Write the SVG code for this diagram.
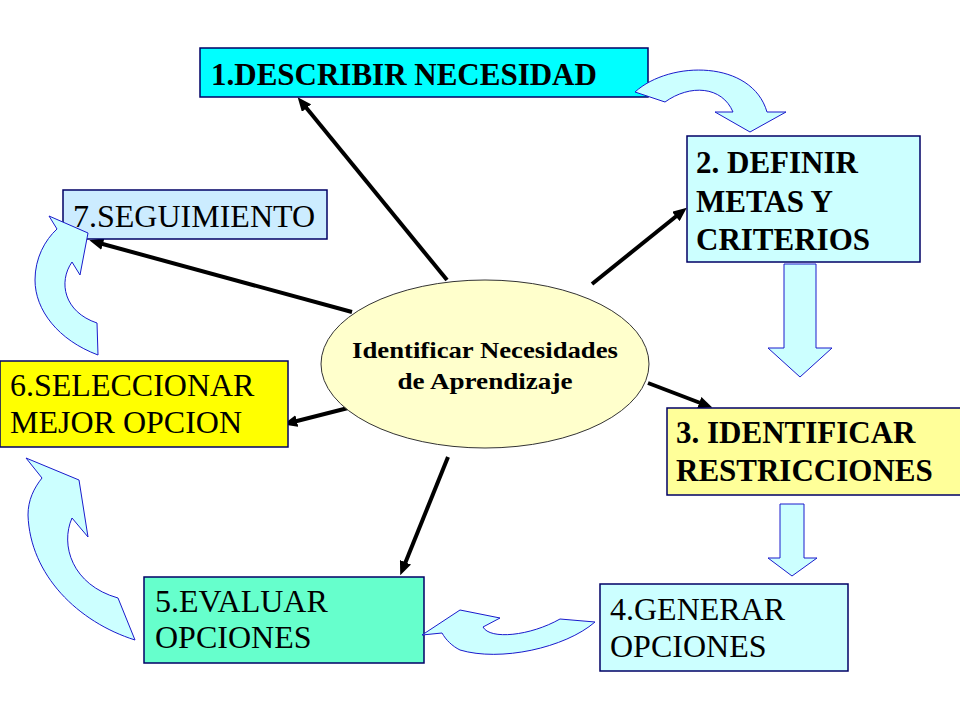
<svg xmlns="http://www.w3.org/2000/svg" width="960" height="720" viewBox="0 0 960 720">
<defs>
<style>
.box{stroke:#000066;stroke-width:1.5}
text{font-family:'Liberation Serif','Times New Roman','DejaVu Serif',serif;fill:#000}
.b{font-weight:bold;font-size:31px}
.r{font-size:32px}
.c{font-weight:bold;font-size:24px}
.blk{fill:#CCFFFF;stroke:#1A1ACC;stroke-width:1}
.con{stroke:#000;stroke-width:4;fill:none;marker-end:url(#ah)}
</style>
<marker id="ah" viewBox="0 0 14 12" refX="4" refY="6" markerWidth="14" markerHeight="12" markerUnits="userSpaceOnUse" orient="auto">
<path d="M0,0 L14,6 L0,12 z" fill="#000"/>
</marker>
</defs>
<rect width="960" height="720" fill="#fff"/>

<g id="connectors">
<line class="con" x1="447" y1="280" x2="304" y2="105"/>
<line class="con" x1="592" y1="284" x2="679" y2="214"/>
<line class="con" x1="352" y1="312" x2="99" y2="243"/>
<line class="con" x1="352" y1="407" x2="293" y2="422"/>
<line class="con" x1="648" y1="383" x2="703" y2="404"/>
<line class="con" x1="448" y1="457" x2="404" y2="566"/>
</g>

<g id="center">
<ellipse cx="485" cy="364" rx="164" ry="84" fill="#FFFFCC" stroke="#333" stroke-width="1"/>
<text class="c" x="485" y="358" text-anchor="middle" textLength="266" lengthAdjust="spacingAndGlyphs">Identificar Necesidades</text>
<text class="c" x="485" y="389" text-anchor="middle" textLength="175" lengthAdjust="spacingAndGlyphs">de Aprendizaje</text>
</g>

<g id="n1">
<rect class="box" x="200" y="48" width="448" height="49" fill="#00FFFF"/>
<text class="b" x="211" y="85">1.DESCRIBIR NECESIDAD</text>
</g>

<g id="n2">
<rect class="box" x="687" y="136" width="233" height="126" fill="#CCFFFF"/>
<text class="b" x="696" y="173">2. DEFINIR</text>
<text class="b" x="696" y="212">METAS Y</text>
<text class="b" x="696" y="250">CRITERIOS</text>
</g>

<g id="n3">
<rect class="box" x="667" y="408" width="296" height="87" fill="#FFFF99"/>
<text class="b" x="676" y="443">3. IDENTIFICAR</text>
<text class="b" x="676" y="481">RESTRICCIONES</text>
</g>

<g id="n4">
<rect class="box" x="600" y="584" width="248" height="87" fill="#CCFFFF"/>
<text class="r" x="610" y="620">4.GENERAR</text>
<text class="r" x="610" y="657">OPCIONES</text>
</g>

<g id="n5">
<rect class="box" x="144" y="577" width="280" height="86" fill="#66FFCC"/>
<text class="r" x="155" y="612">5.EVALUAR</text>
<text class="r" x="155" y="648">OPCIONES</text>
</g>

<g id="n6">
<rect class="box" x="0" y="361" width="288" height="86" fill="#FFFF00"/>
<text class="r" x="10" y="396">6.SELECCIONAR</text>
<text class="r" x="10" y="433">MEJOR OPCION</text>
</g>

<g id="n7">
<rect class="box" x="63" y="190" width="264" height="49" fill="#CCECFF"/>
<text class="r" x="73" y="227">7.SEGUIMIENTO</text>
</g>

<g id="flow-arrows">
<path class="blk" d="M635,92 C670,60 752,60 767,112 L786,112 L750,132 L715,112 L733,112 C722,86 690,84 665,102 Z"/>
<path class="blk" d="M784,264 H816 V348 H832 L800,377 L768,348 H784 Z"/>
<path class="blk" d="M780,504 H804 V558 H817 L792,576 L768,558 H780 Z"/>
<path class="blk" d="M422,635 L460,610 L500,618 L483,627 C490,640 530,636 560,619 L595,622 C565,648 500,662 460,650 C452,646 446,640 442,633 Z"/>
<path class="blk" d="M26,458 L79,480 L88,537 L72,518 C60,545 72,585 118,598 L135,640 C78,622 30,575 28,515 C28,500 34,488 42,478 Z"/>
<path class="blk" d="M49,216 L88,233 L80,275 L72,262 C58,282 64,312 97,323 L98,355 C58,340 35,310 35,280 C35,258 45,240 57,229 Z"/>
</g>
</svg>
